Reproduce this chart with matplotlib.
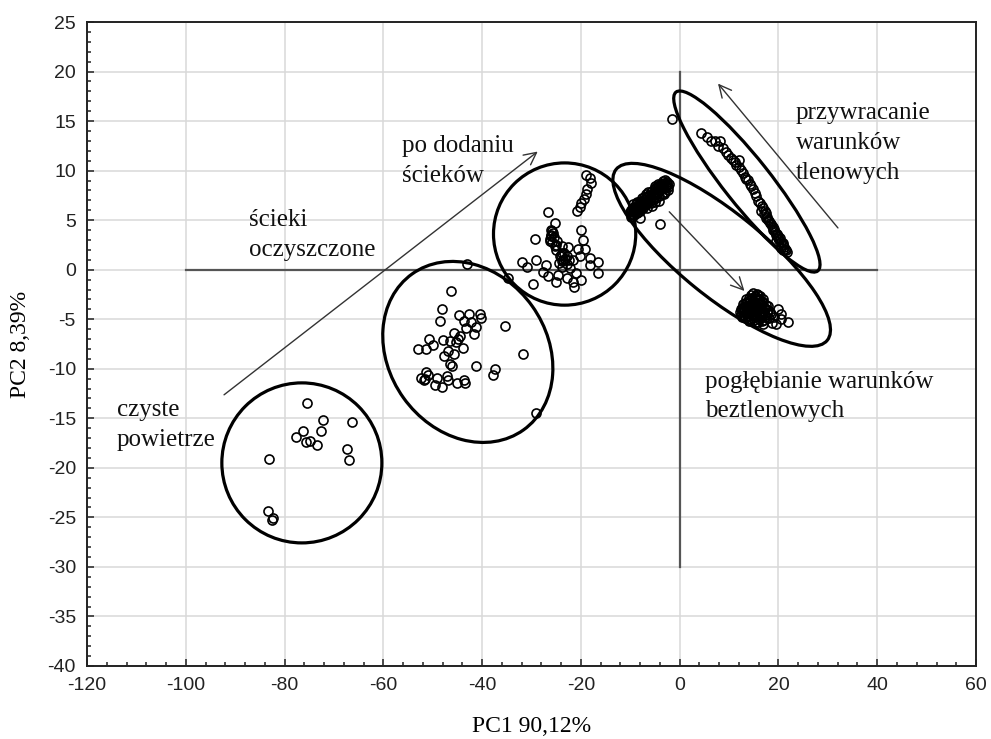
import matplotlib.pyplot as plt
from matplotlib.patches import Ellipse
from matplotlib.transforms import Affine2D
from matplotlib.ticker import MultipleLocator

plt.rcParams['axes.unicode_minus'] = False

# PCA scores, one pair of lists per group
g1_pc1 = [-75.4, -72.2, -66.3, -76.3, -72.7, -77.7, -75.7, -74.9, -73.4, -67.3, -66.9, -83.1, -83.4, -82.4, -82.6]
g1_pc2 = [-13.5, -15.2, -15.4, -16.3, -16.3, -16.9, -17.4, -17.3, -17.7, -18.1, -19.2, -19.1, -24.4, -25.1, -25.3]

g2_pc1 = [-43.0, -46.3, -48.2, -48.5, -44.7, -42.6, -40.5, -40.3, -43.7, -42.2, -41.3, -43.2, -41.6, -45.7,
          -44.5, -44.9, -45.2, -43.9, -46.6, -47.9, -50.8, -49.9, -51.3, -53.0, -45.7, -47.7, -46.9, -46.6,
          -46.1, -41.2, -35.4, -31.8, -29.0, -37.9, -37.3, -51.3, -52.3, -51.8, -49.1, -49.6, -48.2, -47.2,
          -46.9, -45.0, -43.7, -43.4, -51.0, -51.6]
g2_pc2 = [0.6, -2.1, -4.0, -5.2, -4.6, -4.5, -4.5, -4.9, -5.2, -5.3, -5.8, -5.9, -6.5, -6.4,
          -6.7, -7.0, -7.3, -7.9, -7.2, -7.1, -7.0, -7.6, -8.0, -8.0, -8.5, -8.7, -8.2, -9.5,
          -9.7, -9.7, -5.7, -8.5, -14.5, -10.6, -10.0, -10.3, -10.9, -11.1, -10.9, -11.6, -11.8, -10.7,
          -11.1, -11.4, -11.1, -11.4, -10.6, -11.0]

g3_pc1 = [-18.9, -18.2, -17.9, -18.8, -19.0, -19.4, -19.9, -20.2, -20.8, -26.7, -25.3, -26.0, -26.0, -19.9,
          -29.2, -26.3, -25.0, -22.6, -19.6, -20.6, -19.2, -24.3, -23.6, -29.0, -32.0, -31.0, -27.0, -27.7,
          -26.7, -21.6, -20.2, -18.2, -16.5, -18.2, -16.5, -22.3, -20.9, -24.6, -22.9, -25.0, -21.6, -19.9,
          -29.7, -21.3, -23.9, -25.0, -23.9, -25.6, -26.0, -25.3, -34.8, -25.8, -26.2, -24.0, -23.2, -22.8,
          -24.4, -25.5, -25.8, -24.8, -23.9, -23.4, -22.9, -23.8, -22.4]
g3_pc2 = [9.6, 9.3, 8.8, 8.1, 7.6, 7.1, 6.7, 6.3, 5.9, 5.8, 4.7, 4.0, 3.5, 4.0,
          3.1, 2.9, 2.5, 2.3, 3.0, 2.1, 2.1, 1.4, 1.0, 1.0, 0.8, 0.3, 0.5, -0.2,
          -0.6, 1.0, 1.4, 1.2, 0.8, 0.5, -0.3, 0.2, -0.3, -0.5, -0.8, -1.2, -1.2, -1.0,
          -1.4, -1.7, 0.3, 2.0, 1.7, 3.7, 3.4, 2.4, -0.8, 3.9, 3.1, 1.5, 1.1, 0.6,
          0.7, 3.3, 2.8, 2.9, 2.4, 1.7, 1.4, 0.9, 1.0]

# group 4: dense start cluster and dense end cluster
g4_pc1 = [-10.0, -9.5, -9.0, -8.8, -8.2, -7.8, -7.2, -7.0, -6.6, -6.0, -5.8, -5.2, -4.9, -4.5,
          -4.0, -3.6, -3.2, -2.8, -2.5, -2.3, -3.0, -4.2, -5.5, -6.5, -7.5, -8.5, -9.8, -4.2,
          -5.7, -8.1, -3.9,
          -9.6, -9.2, -8.6, -8.0, -7.4, -6.8, -6.2, -5.6, -5.0, -4.4, -3.8, -3.4, -2.9, -2.6,
          -3.3, -3.9, -4.6, -5.3, -6.0, -6.8, -7.6, -8.4, -9.2, -9.9, -8.9, -7.3, -4.8, -3.5,
          -2.4, -9.4,
          -9.7, -9.3, -8.7, -8.3, -7.9, -7.1, -6.9, -6.3, -5.9, -5.4, -4.8, -4.2, -3.7, -3.1,
          -2.7, -2.2, -4.4, -5.1, -6.4, -7.7, -8.6, -9.5, -8.0, -6.7, -5.0, -3.2,
          14.8, 15.6, 16.3, 14.0, 15.2, 16.0, 16.9, 13.3, 14.4, 15.5, 16.5, 17.4, 12.6, 13.6,
          14.7, 15.8, 16.8, 17.8, 12.2, 13.0, 14.1, 15.2, 16.2, 17.2, 18.4, 13.8, 15.0, 16.0,
          17.0, 18.0, 19.0, 16.8, 18.6, 19.9, 20.6, 21.9, 19.4, 20.6,
          13.5, 14.5, 15.9, 16.6, 15.9, 14.9, 13.9, 13.0, 12.4, 13.4, 14.4, 15.4, 16.4, 17.3,
          17.8, 18.2, 17.6, 16.6, 15.5, 14.4, 13.3, 14.2, 15.1, 16.1, 12.9,
          12.4, 12.8, 13.2, 13.7, 14.2, 14.6, 15.3, 15.8, 16.1, 16.9, 17.2, 17.6, 16.9, 16.2,
          15.6, 14.9, 14.3, 13.7, 13.1, 12.7, 13.6, 14.6, 15.6, 16.6, 14.9, 15.9, 14.0, 15.0,
          16.2, 14.1]
g4_pc2 = [5.8, 6.2, 6.0, 6.6, 6.4, 6.9, 7.0, 6.5, 7.4, 7.2, 7.8, 7.6, 8.2, 7.9,
          8.5, 8.2, 8.8, 8.5, 8.9, 8.3, 7.8, 7.4, 7.0, 6.8, 6.2, 5.8, 5.3, 6.9,
          6.4, 5.2, 4.6,
          5.6, 5.9, 6.2, 6.6, 6.8, 7.1, 7.5, 7.9, 8.1, 8.4, 8.7, 9.0, 9.1, 8.6,
          8.4, 8.0, 7.6, 7.3, 6.9, 6.6, 6.5, 6.0, 5.5, 6.0, 6.3, 7.3, 7.2, 7.6,
          8.0, 6.6,
          5.9, 6.3, 5.7, 6.8, 6.1, 6.6, 7.6, 7.0, 6.7, 7.6, 7.8, 8.1, 8.4, 8.2,
          8.3, 8.6, 8.7, 8.4, 7.8, 7.2, 6.8, 5.5, 5.9, 6.2, 6.8, 7.6,
          -2.4, -2.5, -2.7, -2.9, -3.0, -3.1, -3.0, -3.4, -3.5, -3.6, -3.5, -3.6, -3.9, -4.0,
          -4.1, -4.0, -4.2, -4.1, -4.3, -4.6, -4.7, -4.5, -4.7, -4.6, -4.5, -5.0, -5.1, -5.0,
          -5.1, -4.9, -4.8, -5.5, -5.4, -4.0, -4.5, -5.3, -5.5, -5.0,
          -3.0, -2.6, -2.6, -3.3, -3.4, -3.2, -3.7, -3.9, -4.6, -4.4, -4.3, -4.3, -4.4, -4.0,
          -3.7, -4.3, -4.9, -5.2, -5.3, -5.0, -4.9, -3.9, -3.8, -3.8, -3.5,
          -4.0, -4.3, -3.7, -3.3, -3.1, -2.9, -2.7, -2.9, -3.0, -3.3, -3.9, -4.3, -4.5, -4.2,
          -4.1, -3.9, -4.1, -4.3, -4.2, -4.8, -4.7, -4.6, -4.7, -4.8, -4.9, -5.3, -5.2, -3.4,
          -3.5, -3.3]

g5_pc1 = [-1.5, 4.4, 6.4, 8.1, 7.8, 8.8, 9.8, 10.8, 12.1, 11.5, 12.5, 13.2, 13.8, 14.2,
          14.8, 15.5, 16.2, 16.9, 17.4, 17.5, 18.2, 18.9, 19.6, 20.2, 20.9, 21.6, 19.2, 19.9,
          20.5, 21.2, 21.8, 20.6, 19.5, 18.6, 17.8, 17.0, 16.4, 15.9, 15.2, 14.5, 13.5, 12.9,
          12.0, 11.2, 10.3, 9.3, 7.2, 5.6,
          17.7, 18.4, 19.1, 19.7, 20.3, 20.9, 21.4, 18.0, 18.8, 20.0, 21.0, 17.2, 16.6]
g5_pc2 = [15.2, 13.8, 13.0, 13.0, 12.5, 12.3, 11.6, 11.1, 11.1, 10.6, 10.1, 9.4, 9.1, 8.6,
          8.1, 7.4, 6.7, 6.2, 5.7, 5.2, 4.7, 4.0, 3.5, 3.0, 2.5, 2.0, 3.8, 3.2,
          2.8, 2.3, 1.8, 2.2, 2.9, 4.4, 5.0, 5.6, 5.9, 6.9, 7.7, 8.4, 9.2, 9.8,
          10.4, 10.9, 11.3, 11.9, 13.0, 13.4,
          5.3, 4.6, 4.1, 3.6, 3.2, 2.7, 2.1, 4.9, 4.3, 3.4, 2.0, 5.9, 6.4]

groups = [(g1_pc1, g1_pc2), (g2_pc1, g2_pc2), (g3_pc1, g3_pc2), (g4_pc1, g4_pc2), (g5_pc1, g5_pc2)]

# ellipses round the groups: centre (PC1, PC2), semi-axes in PC1 units, angle on screen
ell_cx = [-76.5, -42.9, -23.3, 8.5, 13.6]
ell_cy = [-19.5, -8.3, 3.6, 1.5, 8.9]
ell_a = [16.2, 19.4, 14.4, 27.5, 23.1]
ell_b = [16.2, 16.0, 14.4, 8.5, 4.7]
ell_angle = [0, -54.5, 0, -39, -51.6]

# arrows (start -> end)
arrow_start = [(-92.7, -12.8), (-2.5, 6.05), (32.4, 4.0)]
arrow_end = [(-28.3, 12.1), (13.5, -2.35), (7.4, 19.0)]

# labels
label_text = ['ścieki\noczyszczone', 'po dodaniu\nścieków', 'czyste\npowietrze',
              'przywracanie\nwarunków\ntlenowych', 'pogłębianie warunków\nbeztlenowych']
label_x = [-87.2, -56.3, -114.0, 23.5, 5.1]
label_y = [6.1, 13.6, -13.1, 16.9, -10.2]

# zero lines
hline_x = [-100, 40]
vline_y = [-30, 20]

xmin, xmax = -120, 60
ymin, ymax = -40, 25

serif = 'Liberation Serif'
sans = 'Liberation Sans'

fig = plt.figure(figsize=(9.91, 7.39), dpi=100)
ax = fig.add_axes([0.0878, 0.0988, 0.8971, 0.8714])
ax.set_xlim(xmin, xmax)
ax.set_ylim(ymin, ymax)

ax.xaxis.set_major_locator(MultipleLocator(20))
ax.xaxis.set_minor_locator(MultipleLocator(4))
ax.yaxis.set_major_locator(MultipleLocator(5))
ax.yaxis.set_minor_locator(MultipleLocator(1))
ax.grid(True, which='major', color='#d9d9d9', lw=1.1)
ax.set_axisbelow(True)
ax.tick_params(which='both', direction='in', colors='#222', width=1.1)
ax.tick_params(which='major', length=5, labelsize=14, pad=8)
ax.tick_params(which='minor', length=3)
for lab in ax.get_xticklabels() + ax.get_yticklabels():
    lab.set_family(sans)
for sp in ax.spines.values():
    sp.set_linewidth(1.4)
    sp.set_color('#222')

ax.plot(hline_x, [0, 0], color='#555', lw=1.6, zorder=1)
ax.plot([0, 0], vline_y, color='#555', lw=1.6, zorder=1)

for xs, ys in groups:
    ax.plot(xs, ys, ls='none', marker='o', mfc='none', mec='black', ms=6.5, mew=1.2, zorder=3)

# screen aspect: pixels per PC2 unit over pixels per PC1 unit
bb = ax.get_position()
k = (bb.height * 739 / (ymax - ymin)) / (bb.width * 991 / (xmax - xmin))
tr = Affine2D().scale(1, 1 / k) + ax.transData
for cx, cy, a, b, ang in zip(ell_cx, ell_cy, ell_a, ell_b, ell_angle):
    ax.add_patch(Ellipse((cx, cy * k), 2 * a, 2 * b, angle=ang, transform=tr,
                         fill=False, ec='black', lw=2.3, zorder=4))

for s, e in zip(arrow_start, arrow_end):
    ax.annotate('', xy=e, xytext=s,
                arrowprops=dict(arrowstyle='->', color='#333', lw=1.0, mutation_scale=22))

for t, x, y in zip(label_text, label_x, label_y):
    ax.text(x, y, t, fontsize=18, family=serif, ha='left', va='top', linespacing=1.45, color='#111')

ax.set_xlabel('PC1 90,12%', fontsize=17, family=serif, labelpad=16)
ax.set_ylabel('PC2 8,39%', fontsize=17, family=serif, labelpad=12)

fig.savefig('out.png', dpi=100)
